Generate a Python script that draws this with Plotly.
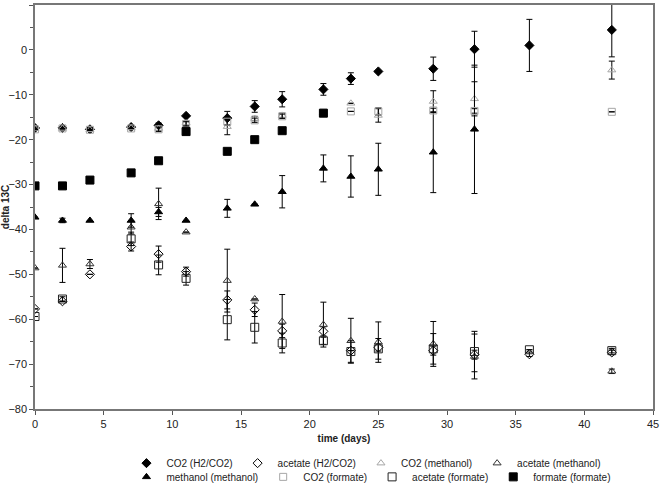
import plotly.graph_objects as go

days = [0, 2, 4, 7, 9, 11, 14, 16, 18, 21, 23, 25, 29, 32, 36, 42]
N = None

co2_h2 = [-17.4, -17.4, -17.7, -17.2, -16.8, -14.7, -15.2, -12.6, -11.0, -8.8, -6.4, -4.8, -4.2, 0.15, 1.0, 4.45]
co2_h2_err = [0, 0, 0, 0, 0.5, 0, 1.5, 1.3, 1.7, 1.3, 1.3, 0, 2.6, 4.0, 5.8, 6.0]

ac_h2 = [-57.7, -56.0, -50.0, -43.8, -45.5, -49.4, -55.7, -57.9, -62.6, -62.7, -67.0, -66.3, -67.0, -67.9, -67.8, -67.4]
ac_h2_err = [0, 0, 0, 1.0, 1.8, 1.0, 2.0, 1.5, 1.5, 1.0, 0, 0.8, 1.0, 1.0, 0.5, 0.5]

co2_meoh = [-17.5, -17.5, -17.8, -17.4, -17.5, -16.3, -17.1, -15.3, -14.6, -14.0, -11.9, -14.6, -11.5, -10.9, N, -4.5]
co2_meoh_err = [0, 0, 0, 0, 0.5, 0.5, 1.8, 0.5, 0.5, 0, 0, 1.5, 2.4, 3.8, 0, 2.0]

ac_meoh = [-48.6, -48.0, -47.7, -39.5, -34.3, -40.6, -51.4, -55.5, -60.5, -61.2, -64.8, -65.1, -65.5, -68.3, N, -71.6]
ac_meoh_err = [0, 3.8, 1.0, 1.5, 3.5, 0, 7.0, 0, 6.0, 5.0, 5.0, 4.5, 5.0, 5.0, 0, 0.5]

meoh_meoh = [-37.3, -38.0, -38.0, -38.0, -36.1, -38.0, -35.3, -34.4, -31.6, -26.4, -28.2, -26.6, -22.8, -17.7, N, N]
meoh_meoh_err = [0, 0.5, 0, 1.5, 1.0, 0, 2.0, 0, 3.6, 3.0, 4.6, 5.8, 9.0, 14.3, 0, 0]

co2_form = [-17.7, -17.5, -17.8, -17.5, -17.7, -16.5, -16.0, -15.7, -14.8, -14.0, -13.7, -13.7, -13.5, -13.6, N, -13.8]
co2_form_err = [0, 0, 0, 0, 0.5, 0.5, 0.8, 0.5, 0.5, 0, 0, 0.8, 0.5, 0.5, 0, 0]

ac_form = [-59.4, -55.5, N, -42.1, -47.9, -50.9, -60.1, -61.8, -65.3, -64.8, -67.2, -66.6, -66.6, -67.2, -66.8, -67.0]
ac_form_err = [0, 0.5, 0, 1.5, 2.2, 1.5, 4.5, 3.5, 2.2, 0.8, 2.4, 2.3, 3.4, 4.5, 0, 0.5]

form_form = [-30.3, -30.3, -29.0, -27.4, -24.7, -18.2, -22.6, -20.0, -18.0, -14.1, N, N, N, N, N, N]

x_ticks = [0, 5, 10, 15, 20, 25, 30, 35, 40, 45]
y_ticks = [-80, -70, -60, -50, -40, -30, -20, -10, 0, 10]

GRAY = "#a6a6a6"

series = [
    ("CO2 (H2/CO2)", co2_h2, co2_h2_err, "diamond", "black", 7, "legend"),
    ("acetate (H2/CO2)", ac_h2, ac_h2_err, "diamond-open", "black", 7, "legend"),
    ("CO2 (methanol)", co2_meoh, co2_meoh_err, "triangle-up-open", GRAY, 7, "legend"),
    ("acetate (methanol)", ac_meoh, ac_meoh_err, "triangle-up-open", "#333333", 7, "legend"),
    ("methanol (methanol)", meoh_meoh, meoh_meoh_err, "triangle-up", "black", 7, "legend2"),
    ("CO2 (formate)", co2_form, co2_form_err, "square-open", GRAY, 7, "legend2"),
    ("acetate (formate)", ac_form, ac_form_err, "square-open", "#222222", 8, "legend2"),
    ("formate (formate)", form_form, None, "square", "black", 8, "legend2"),
]

fig = go.Figure()
for name, ys, err, sym, col, sz, lg in series:
    kw = {}
    if err is not None:
        kw["error_y"] = dict(type="data", array=err, visible=True, color="black",
                             thickness=1, width=3)
    fig.add_trace(go.Scatter(
        x=days, y=ys, mode="markers", name=name, legend=lg,
        marker=dict(symbol=sym, color=col, size=sz, line=dict(color=col, width=1)),
        **kw))

leg_common = dict(orientation="h", xanchor="left", yanchor="middle",
                  font=dict(size=10), bgcolor="rgba(0,0,0,0)", tracegroupgap=0)

fig.update_layout(
    width=660, height=489,
    margin=dict(l=35, r=7, t=5, b=80, autoexpand=False),
    paper_bgcolor="white", plot_bgcolor="white",
    font=dict(family="Liberation Sans, Arial, sans-serif", size=10, color="#222222"),
    showlegend=True,
    legend=dict(x=0.148, y=-0.134, **leg_common),
    legend2=dict(x=0.148, y=-0.168, **leg_common),
)
fig.update_xaxes(
    range=[0, 45], tickvals=x_ticks, ticks="outside", ticklen=4, tickcolor="#555555",
    showline=True, linecolor="#777777", linewidth=1.5, mirror=True, showgrid=False,
    zeroline=False, tickfont=dict(size=11),
    title=dict(text="<b>time (days)</b>", font=dict(size=10), standoff=6),
)
fig.update_yaxes(
    range=[-80, 10], tickvals=y_ticks, ticks="outside", ticklen=4, tickcolor="#555555",
    minor=dict(dtick=5, ticks="outside", ticklen=3, tickcolor="#555555"),
    showline=True, linecolor="#777777", linewidth=1.5, mirror=True, showgrid=False,
    zeroline=False, tickfont=dict(size=11),
    title=dict(text="<b>delta 13C</b>", font=dict(size=10), standoff=2),
)

fig.write_html("out.html", config={"displayModeBar": False},
               post_script="document.body.style.margin='0px';")
